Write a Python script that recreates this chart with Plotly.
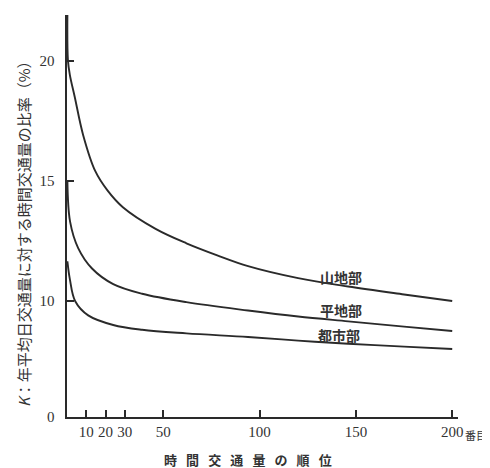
import plotly.graph_objects as go

# 時間交通量の順位 vs K (%)
mountain_rank = [0.2, 0.5, 1.5, 4, 8.4, 14.7, 21, 29, 46, 62, 78, 94, 120, 146, 175, 200]
mountain_k = [21.9, 20.0, 19.4, 18.5, 16.9, 15.4, 14.6, 13.9, 13.0, 12.4, 11.9, 11.45, 10.95, 10.6, 10.27, 10.0]

flat_rank = [0.2, 1.6, 5.8, 13, 24, 39, 62, 94, 120, 146, 175, 200]
flat_k = [15.0, 13.3, 12.2, 11.35, 10.7, 10.3, 9.95, 9.6, 9.35, 9.15, 8.93, 8.75]

urban_rank = [0.2, 1.5, 4.2, 11, 24, 39, 62, 94, 120, 146, 175, 200]
urban_k = [11.65, 10.9, 10.0, 9.4, 9.0, 8.8, 8.65, 8.5, 8.35, 8.22, 8.1, 8.0]

series_names = ["山地部", "平地部", "都市部"]

x_ticks = [10, 20, 30, 50, 100, 150, 200]
x_ticktext = ["10", "20", "30", "50", "100", "150", "200"]
# axis is broken between 0 and 10: the "0" mark sits just below 10
y_ticks = [5.17, 10, 15, 20]
y_ticktext = ["0", "10", "15", "20"]

jp = "Noto Sans CJK JP"
serif = "Liberation Serif"
ink = "#2a2a2a"

fig = go.Figure()
for name, xs, ys in zip(series_names,
                        [mountain_rank, flat_rank, urban_rank],
                        [mountain_k, flat_k, urban_k]):
    fig.add_trace(go.Scatter(x=xs, y=ys, name=name, mode="lines",
                             line=dict(color=ink, width=1.9, shape="spline", smoothing=1.0),
                             showlegend=False))

# curve labels
for name, xv, yv in [("山地部", 142, 11.0), ("平地部", 142, 9.62), ("都市部", 141, 8.6)]:
    fig.add_annotation(x=xv, y=yv, text="<b>" + name + "</b>", showarrow=False,
                       font=dict(family=jp, size=14, color="#333"))

fig.add_annotation(x=200, y=5.17, text="番目", showarrow=False, xanchor="left",
                   yanchor="top", xshift=12, yshift=-9, borderpad=0,
                   font=dict(family=jp, size=11, color="#333"))

# y axis title
fig.add_annotation(x=0, y=0.5, xref="paper", yref="paper", xanchor="center",
                   yanchor="middle", xshift=-44, yshift=-14,
                   text="<i>K</i>：年平均日交通量に対する時間交通量の比率（%）",
                   textangle=-90, showarrow=False,
                   font=dict(family=jp, size=15, color="#333"))

# x axis title
fig.add_annotation(x=0.462, y=0, xref="paper", yref="paper", yshift=-31, yanchor="top",
                   text="<b>" + "\u2002\u2009".join("時間交通量の順位") + "</b>",
                   showarrow=False, font=dict(family=jp, size=13, color="#333"))

fig.update_xaxes(range=[0, 203], tickvals=x_ticks, ticktext=x_ticktext, tickangle=0,
                 ticks="inside", ticklen=7, tickwidth=1.5, tickcolor=ink,
                 showline=True, linecolor=ink, linewidth=2, showgrid=False,
                 zeroline=False, automargin=False,
                 tickfont=dict(family=serif, size=15, color="#333"))
fig.update_yaxes(range=[5.17, 21.9], tickvals=y_ticks,
                 ticktext=[t + "\u2002" for t in y_ticktext],
                 ticks="inside", ticklen=7, tickwidth=1.5, tickcolor=ink,
                 showline=True, linecolor=ink, linewidth=2, showgrid=False,
                 zeroline=False, automargin=False,
                 tickfont=dict(family=serif, size=15, color="#333"))

# page body adds an 8px offset, so the figure is sized to fit the window
fig.update_layout(width=482, height=460, margin=dict(l=59, r=32, t=7, b=51),
                  plot_bgcolor="white", paper_bgcolor="white")

fig.write_html("out.html")
